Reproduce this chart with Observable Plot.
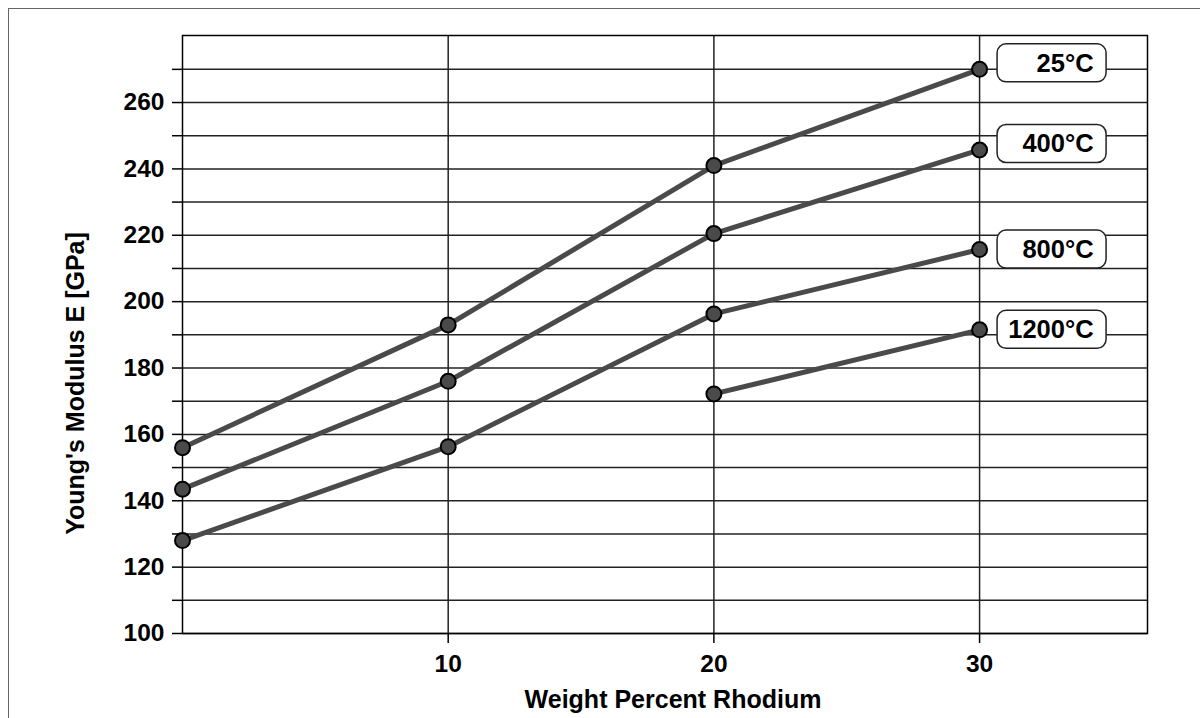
<!DOCTYPE html>
<html><head><meta charset="utf-8">
<script src="https://cdn.jsdelivr.net/npm/d3@7"></script>
<script src="https://cdn.jsdelivr.net/npm/@observablehq/plot@0.6"></script>
<style>
html,body{margin:0;padding:0;background:#fff;}
#chart{position:absolute;left:0;top:0;}
#border{position:absolute;left:8px;top:8px;width:1192px;height:710px;border-left:1.5px solid #666;border-top:1.5px solid #666;pointer-events:none;}
</style></head><body>
<div id="chart"></div><div id="border"></div>
<script>
// ---- data ----
const rhodium = [0, 10, 20, 30];
const temps = ["25°C", "400°C", "800°C", "1200°C"];
const e25   = [156, 193, 241, 270];
const e400  = [143.5, 176, 220.5, 245.7];
const e800  = [128, 156.3, 196.3, 215.7];
const e1200 = [null, null, 172.2, 191.5];
const xTicks = [10, 20, 30];
const yGrid = [100, 110, 120, 130, 140, 150, 160, 170, 180, 190, 200, 210, 220, 230, 240, 250, 260, 270];
const yLabels = [100, 120, 140, 160, 180, 200, 220, 240, 260];

const series = [e25, e400, e800, e1200];
const rows = temps.flatMap((t, i) => rhodium.map((r, j) => ({t, r, e: series[i][j]}))).filter(d => d.e != null);
const labelShift = [-6, -6, 0, 0];
const labelRows = temps.map((t, i) => ({t, r: rhodium[3], e: series[i][3], dy: labelShift[i]}));

const font = "'Liberation Sans', Arial, Helvetica, sans-serif";

function labelBoxes(index, scales) {
  const g = d3.create("svg:g");
  for (const d of labelRows) {
    const cx = scales.x(d.r), cy = scales.y(d.e) + d.dy;
    g.append("rect")
      .attr("x", cx + 18).attr("y", cy - 19)
      .attr("width", 109).attr("height", 38).attr("rx", 9)
      .attr("fill", "#fff").attr("stroke", "#222").attr("stroke-width", 1.5);
  }
  return g.node();
}

const chart = Plot.plot({
  width: 1200, height: 718,
  marginLeft: 182, marginRight: 53, marginTop: 35, marginBottom: 85,
  style: {fontFamily: font, fontSize: "24.5px", fontWeight: "bold", color: "#000", background: "#fff"},
  x: {domain: [0, 36.32]},
  y: {domain: [100, 280.2]},
  marks: [
    Plot.gridY(yGrid, {stroke: "#222", strokeOpacity: 1, strokeWidth: 1.5}),
    Plot.gridX(xTicks, {stroke: "#222", strokeOpacity: 1, strokeWidth: 1.5}),
    Plot.frame({stroke: "#000", strokeWidth: 1.5}),
    Plot.axisY(yGrid, {tickSize: 10, tickPadding: 8, strokeWidth: 1.5, label: null, fontSize: 24.5,
      tickFormat: d => yLabels.includes(d) ? String(d) : ""}),
    Plot.axisX(xTicks, {tickSize: 10, tickPadding: 11, strokeWidth: 1.5, label: null, fontSize: 24.5}),
    Plot.line(rows, {x: "r", y: "e", z: "t", stroke: "#4a4a4a", strokeWidth: 5}),
    Plot.dot(rows, {x: "r", y: "e", r: 7.5, fill: "#4a4a4a", stroke: "#000", strokeWidth: 2}),
    labelBoxes,
    ...labelRows.map(d => Plot.text([d], {x: "r", y: "e", text: "t", dx: 114, dy: d.dy,
      textAnchor: "end", fontSize: 25.5, fill: "#000"})),
    Plot.text(["Weight Percent Rhodium"], {frameAnchor: "bottom", textAnchor: "middle", lineAnchor: "middle",
      dx: 8, dy: 66, fontSize: 25, fill: "#000"}),
    Plot.text(["Young's Modulus E [GPa]"], {frameAnchor: "left", textAnchor: "middle", lineAnchor: "middle",
      rotate: -90, dx: -107, dy: 49, fontSize: 25, fill: "#000"})
  ]
});
document.getElementById("chart").append(chart);
</script>
</body></html>
